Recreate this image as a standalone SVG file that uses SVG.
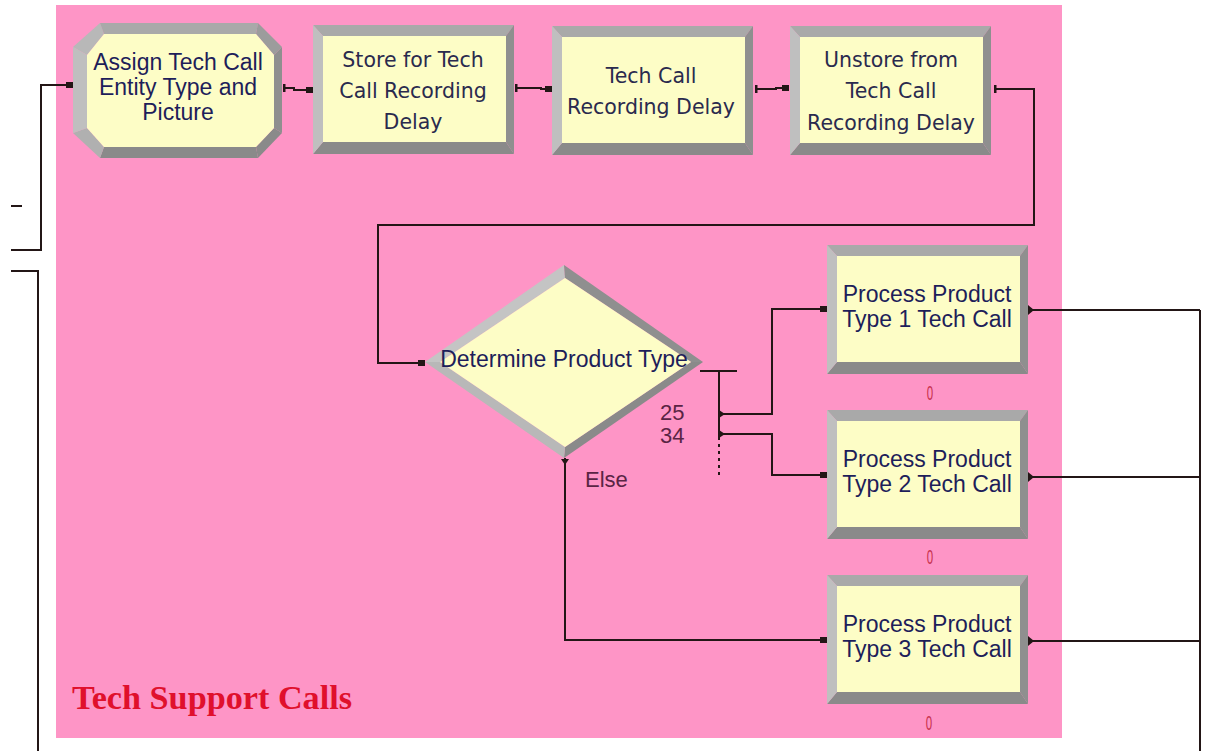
<svg xmlns="http://www.w3.org/2000/svg" width="1207" height="751" viewBox="0 0 1207 751">
<style>
.bg{fill:#fe95c6}
.bt{fill:#a9a9a9}
.bl{fill:#bfbfbf}
.br{fill:#8f8f8f}
.bb{fill:#8a8a8a}
.face{fill:#fdfdc6}
.lbl{font-family:"Liberation Sans",Arial,sans-serif;font-size:23px;fill:#1e1e5a;text-anchor:middle}
.lbl2{font-family:"DejaVu Sans",Verdana,sans-serif;font-size:20.5px;fill:#2a2a4e;text-anchor:middle}
.conn{fill:none;stroke:#231616;stroke-width:2}
.dot{fill:#231616}
.cnt{font-family:"Liberation Sans",Arial,sans-serif;font-size:21px;fill:#c8304c;text-anchor:middle}
.pct{font-family:"Liberation Sans",Arial,sans-serif;font-size:22px;fill:#5a2444}
.title{font-family:"Liberation Serif","Times New Roman",serif;font-size:34px;font-weight:bold;fill:#e0102c}
</style>
<defs>
<g id="box">
<polygon class="bt" points="0,0 201,0 193,11 10,11"/>
<polygon class="br" points="201,0 201,129 193,117 193,11"/>
<polygon class="bb" points="0,129 201,129 193,117 10,117"/>
<polygon class="bl" points="0,0 0,129 10,117 10,11"/>
<rect class="face" x="10" y="11" width="183" height="106"/>
</g>
<rect id="entry" x="-7" y="-3" width="7" height="6" class="dot"/>
<rect id="exitv" x="0" y="-4" width="2.5" height="8" class="dot"/>
</defs>

<rect class="bg" x="56" y="5" width="1006" height="733"/>
<text class="title" x="72" y="709" textLength="280" lengthAdjust="spacingAndGlyphs">Tech Support Calls</text>

<g id="connectors">
<polyline class="conn" points="11,250 41,250 41,85 70,85"/>
<line class="conn" x1="11" y1="206" x2="22" y2="206"/>
<polyline class="conn" points="11,271 38,271 38,751"/>
<path class="conn" d="M284 88 H294 V90 H313"/>
<path class="conn" d="M516 88 H541 V89 H552"/>
<path class="conn" d="M756 89 H776 V88 H789"/>
<path class="conn" d="M995 89 H1034 V225 H378 V363 H425"/>
<path class="conn" d="M700 371 H737 M719 371 V440"/>
<path class="conn" d="M719 444 V478" stroke-dasharray="3 4"/>
<path class="conn" d="M719 414 H772 V309 H827"/>
<path class="conn" d="M719 434 H772 V475 H827"/>
<path class="conn" d="M565 458 V640 H827"/>
<path class="conn" d="M1029 310 H1200 M1029 477 H1200 M1029 641 H1200 M1200 310 V751"/>
<use href="#entry" x="73" y="85"/>
<use href="#entry" x="313" y="90"/>
<use href="#entry" x="552" y="89"/>
<use href="#entry" x="789" y="88"/>
<use href="#entry" x="425" y="363"/>
<use href="#entry" x="827" y="309"/>
<use href="#entry" x="827" y="475"/>
<use href="#entry" x="827" y="640"/>
<use href="#exitv" x="283" y="88"/>
<use href="#exitv" x="515" y="88"/>
<use href="#exitv" x="755" y="89"/>
<use href="#exitv" x="994" y="89"/>
<polygon class="dot" points="719,410 725,414 719,418"/>
<polygon class="dot" points="719,430 725,434 719,438"/>
<polygon class="dot" points="561,459 569,459 565,465"/>
<polygon class="dot" points="1028,305 1034,310 1028,315"/>
<polygon class="dot" points="1028,472 1034,477 1028,482"/>
<polygon class="dot" points="1028,636 1034,641 1028,646"/>
</g>

<g id="assign">
<polygon fill="#b8b8b8" points="73,47 100,23 104,34 87,55"/>
<polygon class="bt" points="100,23 258,23 256,34 104,34"/>
<polygon fill="#9c9c9c" points="258,23 282,47 274,55 256,34"/>
<polygon class="br" points="282,47 282,133 274,128 274,55"/>
<polygon class="bb" points="282,133 258,158 256,147 274,128"/>
<polygon class="bb" points="258,158 100,158 104,147 256,147"/>
<polygon fill="#b0b0b0" points="100,158 73,133 87,128 104,147"/>
<polygon class="bl" points="73,133 73,47 87,55 87,128"/>
<polygon class="face" points="87,55 104,34 256,34 274,55 274,128 256,147 104,147 87,128"/>
<text class="lbl" x="178" y="70">Assign Tech Call</text>
<text class="lbl" x="178" y="95">Entity Type and</text>
<text class="lbl" x="178" y="120">Picture</text>
</g>

<g id="store">
<use href="#box" x="313" y="25"/>
<text class="lbl2" x="413" y="67">Store for Tech</text>
<text class="lbl2" x="413" y="98">Call Recording</text>
<text class="lbl2" x="413" y="129">Delay</text>
</g>

<g id="delay">
<use href="#box" x="552" y="26"/>
<text class="lbl2" x="651" y="83">Tech Call</text>
<text class="lbl2" x="651" y="114">Recording Delay</text>
</g>

<g id="unstore">
<use href="#box" x="790" y="26"/>
<text class="lbl2" x="891" y="67">Unstore from</text>
<text class="lbl2" x="891" y="98">Tech Call</text>
<text class="lbl2" x="891" y="130">Recording Delay</text>
</g>

<g id="decide">
<polygon fill="#c4c4c4" points="425,362 564,265 565,278 440,362"/>
<polygon class="br" points="564,265 703,362 691,362 565,278"/>
<polygon class="bb" points="703,362 564,458 565,447 691,362"/>
<polygon fill="#b8b8b8" points="564,458 425,362 440,362 565,447"/>
<polygon class="face" points="565,278 691,362 565,447 440,362"/>
<text class="lbl" x="564" y="367">Determine Product Type</text>
<text class="pct" x="660" y="420">25</text>
<text class="pct" x="660" y="443">34</text>
<text class="pct" x="585" y="487" fill="#3b2433">Else</text>
</g>

<g id="process1">
<use href="#box" x="827" y="245"/>
<text class="lbl" x="927" y="302">Process Product</text>
<text class="lbl" x="927" y="327">Type 1 Tech Call</text>
<text class="cnt" transform="translate(930,400) scale(0.55,1)">0</text>
</g>

<g id="process2">
<use href="#box" x="827" y="410"/>
<text class="lbl" x="927" y="467">Process Product</text>
<text class="lbl" x="927" y="492">Type 2 Tech Call</text>
<text class="cnt" transform="translate(930,564) scale(0.55,1)">0</text>
</g>

<g id="process3">
<use href="#box" x="827" y="575"/>
<text class="lbl" x="927" y="632">Process Product</text>
<text class="lbl" x="927" y="657">Type 3 Tech Call</text>
<text class="cnt" transform="translate(929,730) scale(0.55,1)">0</text>
</g>
</svg>
